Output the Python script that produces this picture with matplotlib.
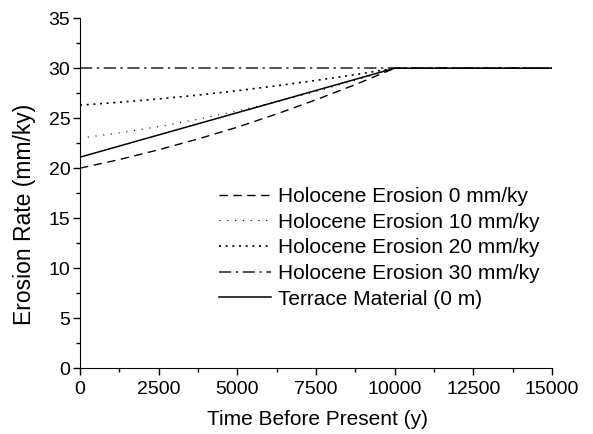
import numpy as np
import matplotlib.pyplot as plt
from matplotlib.ticker import MultipleLocator

plt.rcParams['font.family'] = ['Liberation Sans', 'DejaVu Sans']

# Time points (years before present)
t_curve = [0, 1250, 2500, 3750, 5000, 6250, 7500, 8750, 10000, 15000]
t_line = [0, 10000, 15000]

# Erosion rates (mm/ky)
hol_0 = [20.0, 20.86, 21.84, 22.92, 24.1, 25.42, 26.84, 28.36, 30.0, 30.0]
hol_10 = [23.0, 23.53, 24.16, 24.89, 25.72, 26.64, 27.66, 28.78, 30.0, 30.0]
hol_20 = [26.3, 26.59, 26.93, 27.31, 27.75, 28.24, 28.78, 29.36, 30.0, 30.0]
hol_30 = [30.0, 30.0, 30.0]
terrace = [21.1, 30.0, 30.0]

labels = ['Holocene Erosion 0 mm/ky', 'Holocene Erosion 10 mm/ky',
          'Holocene Erosion 20 mm/ky', 'Holocene Erosion 30 mm/ky',
          'Terrace Material (0 m)']

fig = plt.figure(figsize=(5.93, 4.34), dpi=100)
ax = fig.add_axes([0.135, 0.152, 0.796, 0.806])

ax.plot(t_curve, hol_0, color='k', lw=1, linestyle=(0, (6, 4)), label=labels[0])
ax.plot(t_curve, hol_10, color='k', lw=0.8, linestyle=(0, (1, 6)), label=labels[1])
ax.plot(t_curve, hol_20, color='k', lw=1.2, linestyle=(0, (1.2, 2.8)), label=labels[2])
ax.plot(t_line, hol_30, color='#222222', lw=1.1, linestyle=(0, (8, 3, 1.5, 3)), label=labels[3])
ax.plot(t_line, terrace, color='k', lw=1.1, linestyle='-', label=labels[4])

ax.set_xlim(0, 15000)
ax.set_ylim(0, 35)
ax.xaxis.set_major_locator(MultipleLocator(2500))
ax.xaxis.set_minor_locator(MultipleLocator(1250))
ax.yaxis.set_major_locator(MultipleLocator(5))
ax.yaxis.set_minor_locator(MultipleLocator(2.5))
ax.spines['top'].set_visible(False)
ax.spines['right'].set_visible(False)
ax.tick_params(which='major', direction='out', length=5, width=1, labelsize=14, pad=2)
ax.tick_params(axis='x', which='major', pad=4)
ax.tick_params(which='minor', direction='out', length=3, width=1)

ax.set_xlabel('Time Before Present (y)', fontsize=15)
ax.set_ylabel('Erosion Rate (mm/ky)', fontsize=16.5)
ax.xaxis.set_label_coords(0.503, -0.12)
ax.yaxis.set_label_coords(-0.093, 0.44)

ax.legend(loc='upper left', bbox_to_anchor=(0.295, 0.518), frameon=False,
          fontsize=15, handlelength=2.5, handletextpad=0.3, labelspacing=0.32,
          borderpad=0, borderaxespad=0)

fig.savefig('out.png', dpi=100)
